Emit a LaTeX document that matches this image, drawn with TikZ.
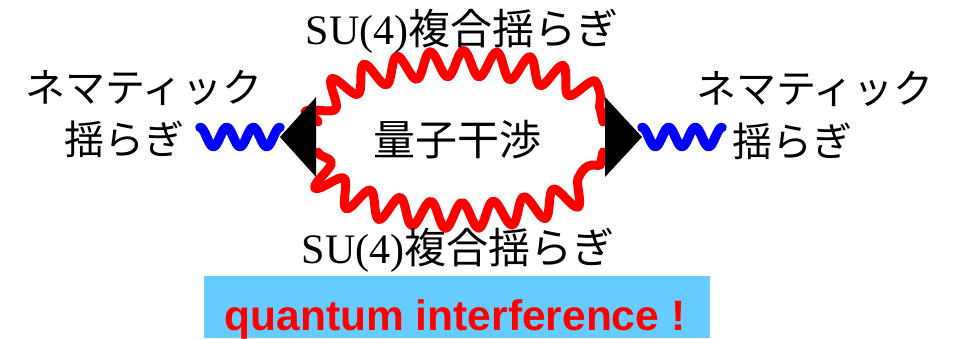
\documentclass[tikz,border=0pt]{standalone}
\usepackage{fontspec}
\setmainfont{Liberation Serif}
\newfontfamily\jpfont{Noto Sans CJK JP}
\newfontfamily\arialfont{Liberation Sans}
\usetikzlibrary{decorations.pathmorphing}
\definecolor{boxblue}{HTML}{66CCFF}
\tikzset{
  bluewave/.style={draw=blue, line width=9.5pt, line cap=round, line join=round},
  redwave/.style={draw=red, line width=9pt, line cap=round, line join=round,
    decorate, decoration={snake, segment length=32.3pt, amplitude=13pt}},
  vertexfill/.style={fill=black},
  jplabel/.style={font=\jpfont\fontsize{40}{46}\selectfont, inner sep=0pt},
  sulabel/.style={font=\fontsize{42}{48}\selectfont, inner sep=0pt, anchor=base},
  bannerbox/.style={fill=boxblue, inner sep=0pt, minimum width=506pt, minimum height=62pt},
  bannertext/.style={font=\arialfont\bfseries\fontsize{42.5}{50}\selectfont, text=red, inner sep=0pt, anchor=base}
}
\begin{document}
\begin{tikzpicture}[x=1pt,y=-1pt]
\useasboundingbox (0,0) rectangle (961,339);
% vertices
\coordinate (LT) at (280,137);
\coordinate (LA) at (316,97);
\coordinate (LB) at (316,177);
\coordinate (RT) at (642,137);
\coordinate (RA) at (605,97);
\coordinate (RB) at (605,177);
% ends of the red propagators
\coordinate (TS) at (318,122);
\coordinate (BS) at (318,152);
% red loop (two wavy propagators on half-ellipses)
\draw[redwave] (TS) arc[start angle=180, end angle=0, x radius=142.5pt, y radius=53pt];
\draw[redwave] (BS) arc[start angle=180, end angle=360, x radius=142.5pt, y radius=53pt];
% blue wavy lines
\draw[bluewave] plot[domain=0:80, samples=120, smooth] ({200+\x}, {137-9.5*cos(13.5*\x)});
\draw[bluewave] plot[domain=0:80, samples=120, smooth] ({722-\x}, {137-9.5*cos(13.5*\x)});
% triangles
\fill[vertexfill] (LT) -- (LA) -- (LB) -- cycle;
\fill[vertexfill] (RT) -- (RA) -- (RB) -- cycle;
% labels
\node[sulabel] (toplab) at (462,45) {SU(4){\jpfont 複合揺らぎ}};
\node[sulabel] (botlab) at (458,263) {SU(4){\jpfont 複合揺らぎ}};
\node[jplabel, font=\jpfont\fontsize{42}{48}\selectfont] (qi) at (457,140) {量子干渉};
\node[jplabel] (ln1) at (144,88) {ネマティック};
\node[jplabel] (ln2) at (124,139) {揺らぎ};
\node[jplabel] (rn1) at (815,89) {ネマティック};
\node[jplabel] (rn2) at (792,141) {揺らぎ};
% banner
\node[bannerbox] (banner) at (457,307) {};
\node[bannertext] (bannertxt) at (455,330) {quantum interference !};
\end{tikzpicture}
\end{document}
